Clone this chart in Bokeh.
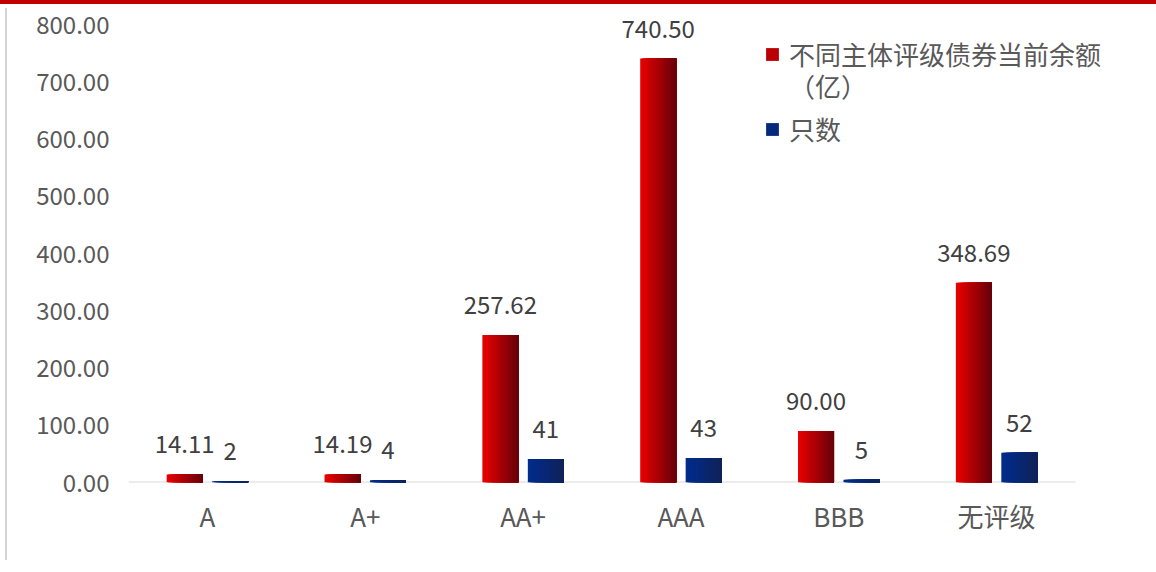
from bokeh.plotting import figure
from bokeh.models import (Range1d, Legend, LegendItem, ColumnDataSource,
                          NumeralTickFormatter, FixedTicker, LabelSet)
from bokeh.transform import dodge
from bokeh.core.properties import value
from bokeh.embed import file_html
from bokeh.resources import INLINE

categories = ["A", "A+", "AA+", "AAA", "BBB", "无评级"]
balance = [14.11, 14.19, 257.62, 740.50, 90.00, 348.69]
counts = [2, 4, 41, 43, 5, 52]
series_names = ["不同主体评级债券当前余额", "（亿）", "只数"]
y_ticks = [0, 100, 200, 300, 400, 500, 600, 700, 800]

FONT = "Noto Sans CJK SC"
TXT = "#595959"

xs = [i + 0.5 for i in range(len(categories))]
src = ColumnDataSource(dict(
    x=xs,
    bal=balance,
    cnt=counts,
    bal_lbl=[f"{v:.2f}" for v in balance],
    cnt_lbl=[str(c) for c in counts],
))

FIG_W, FIG_H = 1156, 560
ML, MB = 128, 82
frame_w = FIG_W - ML
frame_h = FIG_H - MB
px_per_cat = 947 / len(categories)
px_per_unit = 458 / 800.0

p = figure(x_range=Range1d(0, frame_w / px_per_cat),
           y_range=Range1d(0, frame_h / px_per_unit),
           width=FIG_W, height=FIG_H, output_backend="svg", toolbar_location=None,
           min_border_left=ML, min_border_right=0, min_border_top=0, min_border_bottom=MB)
p.outline_line_color = None
p.xgrid.grid_line_color = None
p.ygrid.grid_line_color = None
p.border_fill_color = None
p.background_fill_color = None
p.styles = {
    "border-top": "4px solid #c00000",
    "background": "linear-gradient(#d4d4d4, #d4d4d4) 5px 4px / 2px 100% no-repeat, #ffffff",
}

BW = 0.228
OFF = 0.144
N = 24


def lerp(c1, c2, t):
    return "#%02x%02x%02x" % tuple(int(round(a + (b - a) * t)) for a, b in zip(c1, c2))


def gradient_bars(field, center, c_left, c_right):
    rs = []
    sw = BW / N
    for i in range(N):
        t = i / (N - 1)
        col = lerp(c_left, c_right, t)
        left = center - BW / 2 + i * sw
        right = center + BW / 2
        r = p.vbar(x=dodge("x", (left + right) / 2), top=field, bottom=0, width=right - left,
                   source=src, fill_color=col, line_color=None)
        rs.append(r)
    return rs

# baseline (category axis line)
p.segment(x0=[0], x1=[len(categories)], y0=[0], y1=[0], line_color="#d9d9d9", line_width=2)

red_rs = gradient_bars("bal", -OFF, (232, 0, 0), (104, 0, 10))
blue_rs = gradient_bars("cnt", OFF, (0, 44, 142), (16, 34, 88))

# data labels
for fld, lbl, off in (("bal", "bal_lbl", -OFF), ("cnt", "cnt_lbl", OFF)):
    p.add_layout(LabelSet(x=dodge("x", off), y=fld, text=lbl, source=src,
                          text_align="center", text_baseline="middle", y_offset=30,
                          text_font=value(FONT), text_font_size="24px", text_color="#404040"))

# axes
p.yaxis.ticker = FixedTicker(ticks=y_ticks)
p.yaxis.formatter = NumeralTickFormatter(format="0.00")
p.yaxis.axis_line_color = None
p.yaxis.major_tick_line_color = None
p.yaxis.minor_tick_line_color = None
p.yaxis.major_label_standoff = 13
p.yaxis.major_label_text_font = FONT
p.yaxis.major_label_text_font_size = "24px"
p.yaxis.major_label_text_color = TXT

p.xaxis.ticker = FixedTicker(ticks=xs)
p.xaxis.major_label_overrides = {x: c for x, c in zip(xs, categories)}
p.xaxis.axis_line_color = None
p.xaxis.major_tick_line_color = None
p.xaxis.minor_tick_line_color = None
p.xaxis.major_label_standoff = 8
p.xaxis.major_label_text_font = FONT
p.xaxis.major_label_text_font_size = "26px"
p.xaxis.major_label_text_color = TXT

# invisible renderer for the wrapped second legend line
ghost = p.vbar(x=[], top=[], width=0.1, fill_alpha=0, line_alpha=0)

legend_specs = [
    (series_names[0], red_rs[N // 3], (636, 410)),
    (series_names[1], ghost, (636, 378)),
    (series_names[2], blue_rs[N // 3], (636, 335)),
]
for label, rend, loc in legend_specs:
    lg = Legend(items=[LegendItem(label=label, renderers=[rend])], location=loc,
                orientation="vertical", border_line_color=None, background_fill_alpha=0,
                padding=0, margin=0, glyph_width=16, glyph_height=16, label_standoff=9,
                label_text_font=FONT, label_text_font_size="26px", label_text_color=TXT)
    p.add_layout(lg, "center")

open("out.html", "w").write(file_html(p, INLINE))
